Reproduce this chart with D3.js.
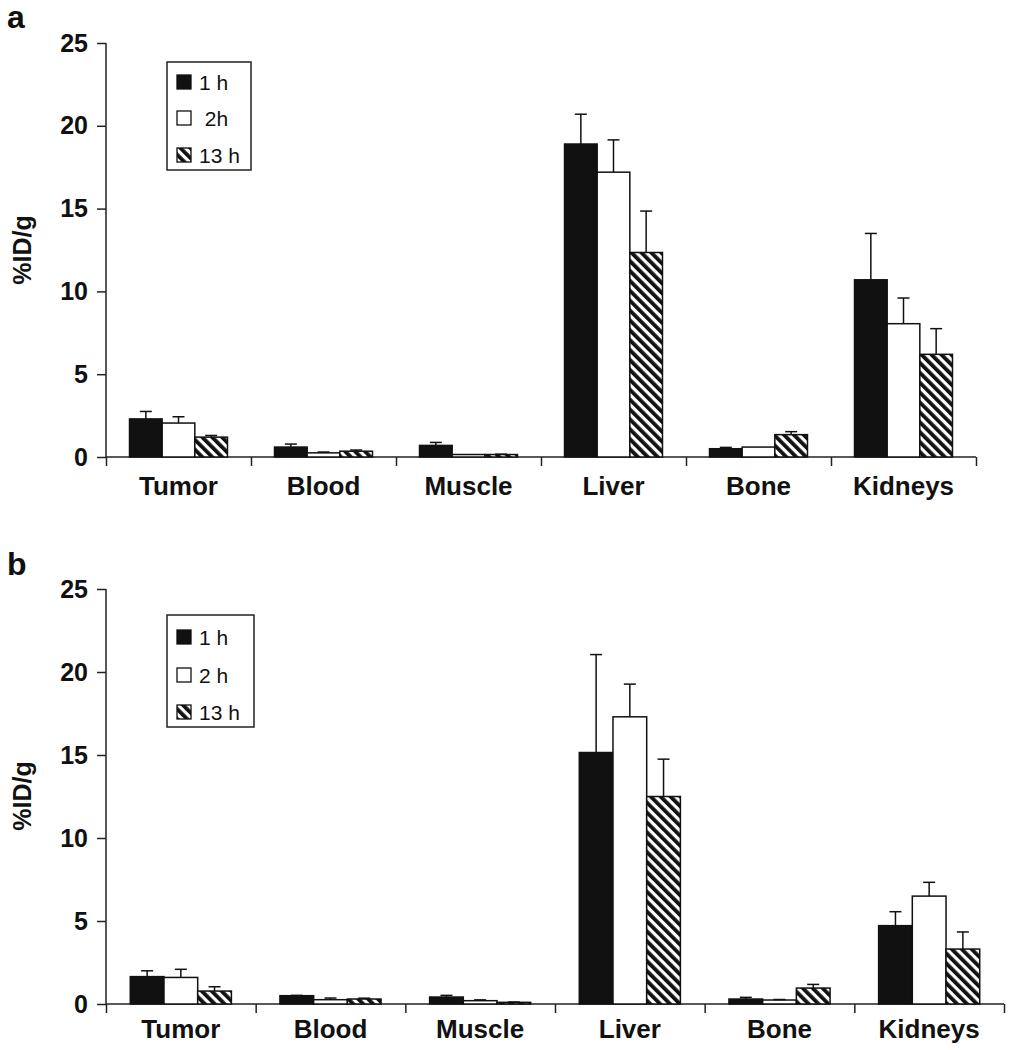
<!DOCTYPE html>
<html>
<head>
<meta charset="utf-8">
<script src="https://cdn.jsdelivr.net/npm/d3@7"></script>
<style>
  body { margin: 0; background: #fff; }
  svg { display: block; font-family: "Liberation Sans", Arial, Helvetica, sans-serif; }
</style>
</head>
<body>
<svg id="chart" width="1014" height="1050"></svg>
<script>
// ---- data ----
const categories = ["Tumor", "Blood", "Muscle", "Liver", "Bone", "Kidneys"];
const seriesKeys = ["1 h", "2 h", "13 h"];
const legendLabelsA = ["1 h", " 2h", "13 h"];
const legendLabelsB = ["1 h", "2 h", "13 h"];
const yTicks = [0, 5, 10, 15, 20, 25];

// panel a
const a1h      = [2.3, 0.6, 0.7, 18.9, 0.5, 10.7];
const a1hErr   = [0.45, 0.18, 0.18, 1.8, 0.08, 2.8];
const a2h      = [2.05, 0.25, 0.15, 17.2, 0.6, 8.05];
const a2hErr   = [0.38, 0.05, 0.0, 1.95, 0.0, 1.55];
const a13h     = [1.2, 0.35, 0.15, 12.35, 1.35, 6.2];
const a13hErr  = [0.1, 0.07, 0.02, 2.5, 0.18, 1.55];

// panel b
const b1h      = [1.65, 0.5, 0.42, 15.15, 0.3, 4.72];
const b1hErr   = [0.35, 0.02, 0.1, 5.9, 0.1, 0.84];
const b2h      = [1.6, 0.26, 0.2, 17.3, 0.24, 6.5];
const b2hErr   = [0.49, 0.1, 0.05, 1.97, 0.03, 0.83];
const b13h     = [0.78, 0.3, 0.1, 12.5, 0.96, 3.31];
const b13hErr  = [0.26, 0.05, 0.02, 2.25, 0.22, 1.03];

const svg = d3.select("#chart");

// hatch pattern
const defs = svg.append("defs");
const pat = defs.append("pattern")
  .attr("id", "hatch")
  .attr("patternUnits", "userSpaceOnUse")
  .attr("width", 7).attr("height", 7)
  .attr("patternTransform", "rotate(-45)");
pat.append("rect").attr("width", 7).attr("height", 7).attr("fill", "#fff");
pat.append("rect").attr("width", 3.8).attr("height", 7).attr("fill", "#111");

const fills = ["#111", "#fff", "url(#hatch)"];

function drawPanel(cfg) {
  const g = svg.append("g");
  const x0 = d3.scaleBand().domain(categories).range([cfg.left, cfg.right]).paddingInner(0).paddingOuter(0);
  const x1 = d3.scaleBand().domain(seriesKeys).range([0, x0.bandwidth()]).paddingInner(0).paddingOuter(0.72);
  const y = d3.scaleLinear().domain([0, 25]).range([cfg.bottom, cfg.top]);
  const edges = d3.scaleLinear().domain([0, categories.length]).range([cfg.left, cfg.right]);

  // panel label
  g.append("text").attr("x", 7).attr("y", cfg.labelY)
    .attr("font-size", 32).attr("font-weight", "bold").attr("fill", "#111")
    .text(cfg.label);

  // y axis
  const ya = g.append("g").attr("transform", `translate(${cfg.left},0)`)
    .call(d3.axisLeft(y).tickValues(yTicks).tickSize(9).tickPadding(9).tickFormat(d3.format("d")));
  ya.selectAll("path, line").attr("stroke", "#222").attr("stroke-width", 1.5);
  ya.select(".domain").attr("d", `M0,${cfg.top}V${cfg.bottom}`);
  ya.selectAll("text").attr("font-size", 25).attr("font-weight", "bold").attr("fill", "#111")
    .attr("font-family", "Liberation Sans, Arial, sans-serif");

  // x axis (boundary ticks)
  const xa = g.append("g").attr("transform", `translate(0,${cfg.bottom})`)
    .call(d3.axisBottom(edges).tickValues(d3.range(categories.length + 1)).tickSize(9).tickFormat(""));
  xa.selectAll("path, line").attr("stroke", "#222").attr("stroke-width", 1.5);
  xa.select(".domain").attr("d", `M${cfg.left},0H${cfg.right}`);

  // category labels
  g.selectAll(".cat").data(categories).enter().append("text")
    .attr("x", d => x0(d) + x0.bandwidth() / 2)
    .attr("y", cfg.catY)
    .attr("text-anchor", "middle")
    .attr("font-size", 26).attr("font-weight", "bold").attr("fill", "#111")
    .text(d => d);

  // y title
  g.append("text")
    .attr("transform", `translate(${cfg.titleX},${cfg.titleY}) rotate(-90)`)
    .attr("text-anchor", "middle")
    .attr("font-size", 25).attr("font-weight", "bold").attr("fill", "#111")
    .text("%ID/g");

  // bars
  cfg.series.forEach((s, si) => {
    const key = seriesKeys[si];
    const bars = g.append("g");
    bars.selectAll("rect").data(categories).enter().append("rect")
      .attr("x", (d, i) => x0(d) + x1(key))
      .attr("y", (d, i) => y(s.vals[i]))
      .attr("width", x1.bandwidth())
      .attr("height", (d, i) => y(0) - y(s.vals[i]))
      .attr("fill", fills[si])
      .attr("stroke", "#111").attr("stroke-width", 1.5);
    const eb = g.append("g").attr("stroke", "#111").attr("stroke-width", 1.5);
    categories.forEach((d, i) => {
      if (s.errs[i] <= 0) return;
      const cx = x0(d) + x1(key) + x1.bandwidth() / 2;
      eb.append("line").attr("x1", cx).attr("x2", cx)
        .attr("y1", y(s.vals[i])).attr("y2", y(s.vals[i] + s.errs[i]));
      eb.append("line").attr("x1", cx - 6).attr("x2", cx + 6)
        .attr("y1", y(s.vals[i] + s.errs[i])).attr("y2", y(s.vals[i] + s.errs[i]));
    });
  });

  // legend
  const L = cfg.legend;
  const lg = g.append("g");
  lg.append("rect").attr("x", L.x).attr("y", L.y).attr("width", L.w).attr("height", L.h)
    .attr("fill", "#fff").attr("stroke", "#222").attr("stroke-width", 1.5);
  L.labels.forEach((lab, i) => {
    const cy = L.rows[i];
    lg.append("rect").attr("x", L.x + 10).attr("y", cy - 7).attr("width", 14).attr("height", 14)
      .attr("fill", fills[i]).attr("stroke", "#111").attr("stroke-width", 1.3);
    lg.append("text").attr("x", L.x + 32).attr("y", cy).attr("dy", "0.36em")
      .attr("font-size", 21).attr("fill", "#111").style("white-space", "pre")
      .text(lab);
  });
}

drawPanel({
  label: "a", labelY: 28,
  left: 106, right: 976, top: 43, bottom: 457,
  catY: 495, titleX: 31, titleY: 250,
  series: [{vals: a1h, errs: a1hErr}, {vals: a2h, errs: a2hErr}, {vals: a13h, errs: a13hErr}],
  legend: {x: 167, y: 62, w: 84, h: 108, rows: [82, 118, 155], labels: legendLabelsA}
});

drawPanel({
  label: "b", labelY: 575,
  left: 106, right: 1004, top: 589, bottom: 1004,
  catY: 1038, titleX: 31, titleY: 796,
  series: [{vals: b1h, errs: b1hErr}, {vals: b2h, errs: b2hErr}, {vals: b13h, errs: b13hErr}],
  legend: {x: 167, y: 615, w: 87, h: 112, rows: [637, 675, 712], labels: legendLabelsB}
});
</script>
</body>
</html>
